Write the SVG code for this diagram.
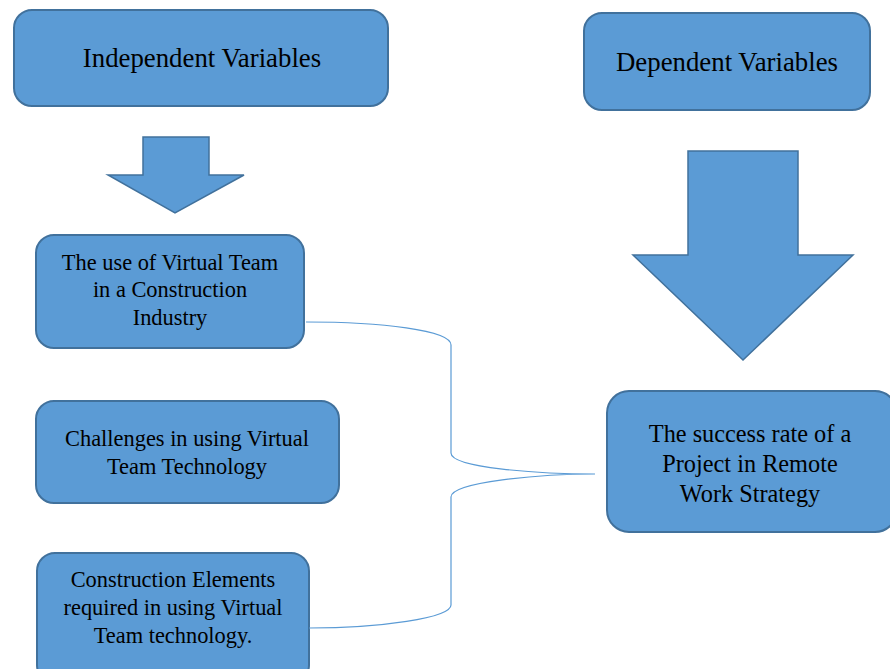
<svg xmlns="http://www.w3.org/2000/svg" width="890" height="669" viewBox="0 0 890 669">
<style>
.box{fill:#5B9BD5;stroke:#41719C;stroke-width:2}
.arrow{fill:#5B9BD5;stroke:#41719C;stroke-width:1.5}
.t{font-family:"Liberation Serif","Times New Roman",serif;fill:#000;text-anchor:middle}
.big{font-size:26.8px}
.mid{font-size:22.4px}
.lg{font-size:24.3px}
.conn{fill:none;stroke:#5B9BD5;stroke-width:1.2}
</style>
<rect width="890" height="669" fill="#fff"/>
<g id="independent">
<rect class="box" x="14" y="10" width="374" height="96" rx="18"/>
<text class="t big" x="202" y="67">Independent Variables</text>
</g>
<g id="dependent">
<rect class="box" x="584" y="13" width="286" height="97" rx="18"/>
<text class="t big" x="727" y="71">Dependent Variables</text>
</g>
<g id="arrow-small">
<polygon class="arrow" points="143,137 209,137 209,175 244,175 175,213 108,175 143,175"/>
</g>
<g id="arrow-big">
<polygon class="arrow" points="688,151 798,151 798,255 853,255 743,360 633,255 688,255"/>
</g>
<g id="use-virtual-team">
<rect class="box" x="36" y="235" width="268" height="113" rx="18"/>
<text class="t mid" x="170" y="270">The use of Virtual Team</text>
<text class="t mid" x="170" y="297">in a Construction</text>
<text class="t mid" x="170" y="325">Industry</text>
</g>
<g id="challenges">
<rect class="box" x="36" y="401" width="303" height="102" rx="18"/>
<text class="t mid" x="187" y="446">Challenges in using Virtual</text>
<text class="t mid" x="187" y="474">Team Technology</text>
</g>
<g id="elements">
<rect class="box" x="37" y="553" width="272" height="130" rx="18"/>
<text class="t mid" x="173" y="587">Construction Elements</text>
<text class="t mid" x="173" y="615">required in using Virtual</text>
<text class="t mid" x="173" y="643">Team technology.</text>
</g>
<g id="success">
<rect class="box" x="607" y="391" width="290" height="141" rx="22"/>
<text class="t lg" x="750" y="442">The success rate of a</text>
<text class="t lg" x="750" y="472">Project in Remote</text>
<text class="t lg" x="750" y="502">Work Strategy</text>
</g>
<g id="connectors">
<path class="conn" d="M306,322 C380,322 451,330 451,345 L451,453 C451,468 540,474 595,474 C540,474 451,482 451,497 L451,605 C451,618 380,628 309,628"/>
</g>
</svg>
